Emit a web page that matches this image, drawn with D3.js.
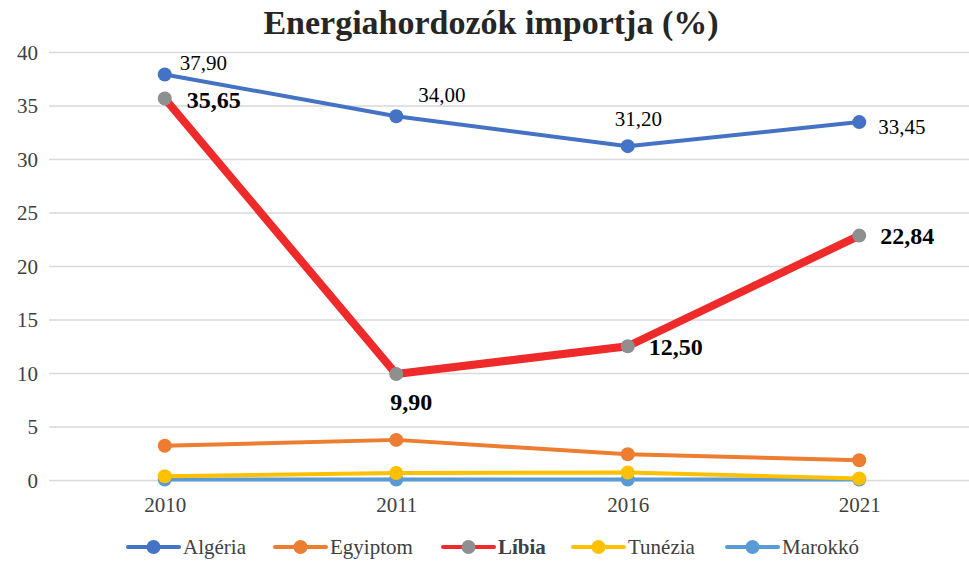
<!DOCTYPE html>
<html>
<head>
<meta charset="utf-8">
<script src="https://cdn.jsdelivr.net/npm/d3@7"></script>
<style>
  body { margin: 0; background: #fff; }
  text { font-family: "Liberation Serif", "Times New Roman", Times, serif; }
  .grid line { stroke: #d9d9d9; stroke-width: 1.5; }
  .grid path { display: none; }
  .axis path, .axis line { display: none; }
  .axis text { fill: #404040; font-size: 21px; }
</style>
</head>
<body>
<div id="chart"></div>
<script>
// Data
let years = ["2010", "2011", "2016", "2021"];
let algeria = [37.90, 34.00, 31.20, 33.45];
let egyiptom = [3.2, 3.75, 2.4, 1.85];
let libia = [35.65, 9.90, 12.50, 22.84];
let tunezia = [0.35, 0.65, 0.7, 0.15];
let marokko = [0.05, 0.05, 0.05, 0.05];
let seriesNames = ["Algéria", "Egyiptom", "Líbia", "Tunézia", "Marokkó"];
let yTicks = [0, 5, 10, 15, 20, 25, 30, 35, 40];

const SERIF = "'Liberation Serif', 'Times New Roman', serif";

function chart(width, height, selector) {

  let margin = { top: 52, left: 49, right: -6, bottom: 81 };
  let chartWidth = width - margin.left - margin.right;
  let chartHeight = height - margin.top - margin.bottom;

  let xPositionScale = d3.scalePoint()
    .domain(years)
    .range([0, chartWidth])
    .padding(0.5);

  let yPositionScale = d3.scaleLinear()
    .domain([0, 40])
    .range([chartHeight, 0]);

  let series = [
    { name: seriesNames[0], values: algeria, color: "#4472c4", marker: "#4472c4", width: 4, legendWidth: 4 },
    { name: seriesNames[1], values: egyiptom, color: "#ed7d31", marker: "#ed7d31", width: 4, legendWidth: 4 },
    { name: seriesNames[4], values: marokko, color: "#5b9bd5", marker: "#5b9bd5", width: 4, legendWidth: 4 },
    { name: seriesNames[3], values: tunezia, color: "#ffc000", marker: "#ffc000", width: 4, legendWidth: 4 },
    { name: seriesNames[2], values: libia, color: "#ee2a2a", marker: "#8f8f8f", width: 8, legendWidth: 4, bold: true }
  ];

  let svg = d3.select(selector)
    .append("svg")
    .attr("width", width)
    .attr("height", height)
    .attr("font-family", SERIF);

  // Title
  svg.append("text")
    .text("Energiahordozók importja (%)")
    .attr("x", 491)
    .attr("y", 34)
    .attr("text-anchor", "middle")
    .attr("font-family", SERIF)
    .attr("font-weight", "bold")
    .attr("font-size", 34)
    .attr("fill", "#262626");

  let g = svg.append("g")
    .attr("transform", "translate(" + margin.left + "," + margin.top + ")");

  // Gridlines
  g.append("g")
    .attr("class", "grid")
    .call(d3.axisLeft(yPositionScale).tickValues(yTicks).tickSize(-chartWidth).tickFormat(""));

  // Axes
  let yAxis = g.append("g")
    .attr("class", "axis y-axis")
    .call(d3.axisLeft(yPositionScale).tickValues(yTicks).tickSize(0))
    .attr("font-family", SERIF);
  yAxis.selectAll("text").attr("x", -11).attr("dy", "0.35em");

  let xAxis = g.append("g")
    .attr("class", "axis x-axis")
    .attr("transform", "translate(0," + chartHeight + ")")
    .call(d3.axisBottom(xPositionScale).tickSize(0))
    .attr("font-family", SERIF);
  xAxis.selectAll("text").attr("dy", 0).attr("y", 32);

  // Lines and markers
  let line = d3.line()
    .x((d, i) => xPositionScale(years[i]))
    .y(d => yPositionScale(d));

  series.forEach(s => {
    g.append("path")
      .attr("d", line(s.values))
      .attr("fill", "none")
      .attr("stroke", s.color)
      .attr("stroke-width", s.width)
      .attr("stroke-linejoin", "round")
      .attr("stroke-linecap", "round");
    g.selectAll(null)
      .data(s.values)
      .enter()
      .append("circle")
      .attr("cx", (d, i) => xPositionScale(years[i]))
      .attr("cy", d => yPositionScale(d))
      .attr("r", 7)
      .attr("fill", s.marker);
  });

  // Data labels
  let fmt = d => d.toFixed(2).replace(".", ",");
  let algeriaOffsets = [[15, -4], [22, -14], [-13, -20], [19, 12]];
  let libiaOffsets = [[22, 9], [-6, 36], [21, 9], [21, 8]];

  g.selectAll(null)
    .data(algeria)
    .enter()
    .append("text")
    .text(fmt)
    .attr("x", (d, i) => xPositionScale(years[i]) + algeriaOffsets[i][0])
    .attr("y", (d, i) => yPositionScale(d) + algeriaOffsets[i][1])
    .attr("font-family", SERIF)
    .attr("font-size", 21)
    .attr("fill", "#000");

  g.selectAll(null)
    .data(libia)
    .enter()
    .append("text")
    .text(fmt)
    .attr("x", (d, i) => xPositionScale(years[i]) + libiaOffsets[i][0])
    .attr("y", (d, i) => yPositionScale(d) + libiaOffsets[i][1])
    .attr("font-family", SERIF)
    .attr("font-size", 24)
    .attr("font-weight", "bold")
    .attr("fill", "#000");

  // Legend
  let legendOrder = [0, 1, 4, 3, 2];
  let legendX = [128, 275, 443, 573, 727];
  let legend = svg.append("g").attr("transform", "translate(0,547)");
  legendOrder.forEach((si, k) => {
    let s = series[si];
    let item = legend.append("g").attr("transform", "translate(" + legendX[k] + ",0)");
    item.append("line")
      .attr("x1", 0).attr("x2", 51)
      .attr("stroke", s.color)
      .attr("stroke-width", s.legendWidth)
      .attr("stroke-linecap", "round");
    item.append("circle")
      .attr("cx", 25.5).attr("r", 7)
      .attr("fill", s.marker);
    item.append("text")
      .text(s.name)
      .attr("x", 55)
      .attr("dy", "0.35em")
      .attr("font-family", SERIF)
      .attr("font-size", 21)
      .attr("font-weight", s.bold ? "bold" : "normal")
      .attr("fill", "#404040");
  });
}

chart(969, 561, "#chart");
</script>
</body>
</html>
